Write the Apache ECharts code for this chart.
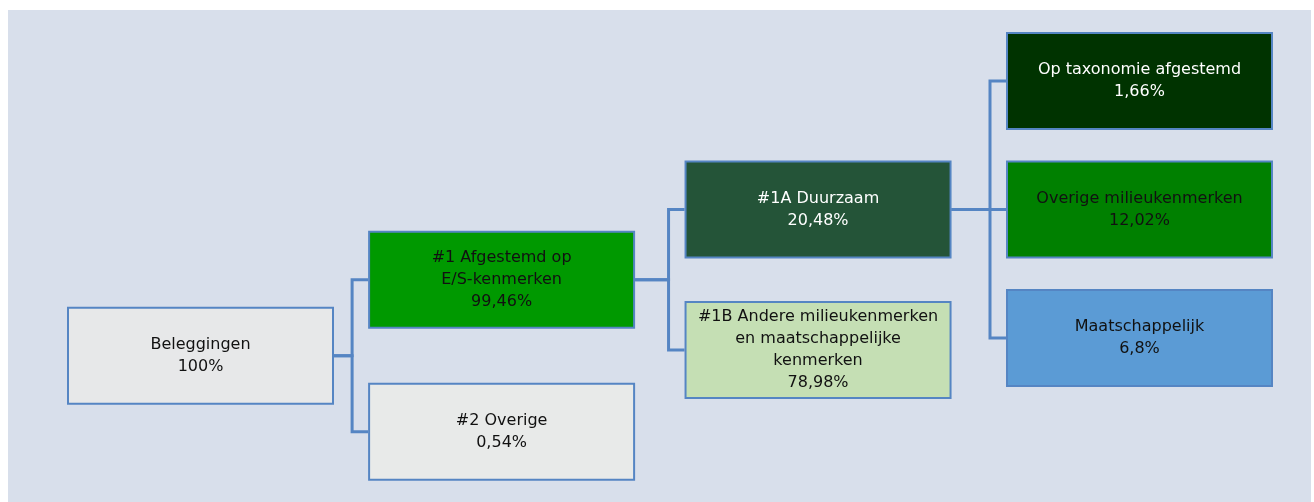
<!DOCTYPE html>
<html>
<head>
<meta charset="utf-8">
<title>Beleggingen</title>
<script src="https://cdn.jsdelivr.net/npm/echarts@6/dist/echarts.min.js"></script>
<style>
  html, body { margin: 0; padding: 0; background: #ffffff; }
  #chart { width: 1314px; height: 502px; }
</style>
</head>
<body>
<div id="chart"></div>
<script>
// boom: namen, aandelen en ouders
const nodeNames = [
  'Beleggingen',
  '#1 Afgestemd op\nE/S-kenmerken',
  '#2 Overige',
  '#1A Duurzaam',
  '#1B Andere milieukenmerken\nen maatschappelijke\nkenmerken',
  'Op taxonomie afgestemd',
  'Overige milieukenmerken',
  'Maatschappelijk',
];
const nodeShares = [100, 99.46, 0.54, 20.48, 78.98, 1.66, 12.02, 6.8];
const nodeParents = [-1, 0, 0, 1, 1, 3, 3, 3];

// layout: kolom per niveau, rij voor de bladeren (ouders = midden van kinderen)
const levelColumns = [0, 0.962, 1.973, 3];
const leafRows = { 2: 2.73, 4: 2.093, 5: 0, 6: 1, 7: 2 };

// stijl
const fillColors = ['#e7e8e9', '#009900', '#e8eae9', '#245438', '#c5dfb4', '#003300', '#008000', '#5b9bd5'];
const textColors = ['#111', '#111', '#111', '#fff', '#111', '#fff', '#111', '#111'];
const LINE_COLOR = '#5585c3';
const BOX_W = 267;
const BOX_H = 98;
const ELBOW = 16;

const depthOf = i => (nodeParents[i] < 0 ? 0 : depthOf(nodeParents[i]) + 1);
const childrenOf = i => nodeParents.map((p, k) => (p === i ? k : -1)).filter(k => k >= 0);
const rowOf = i => {
  const kids = childrenOf(i);
  if (kids.length === 0) return leafRows[i];
  return kids.reduce((s, k) => s + rowOf(k), 0) / kids.length;
};
const fmtShare = v => String(v).replace('.', ',') + '%';

const nodeData = nodeNames.map((n, i) => [levelColumns[depthOf(i)], rowOf(i), i]);
const linkData = nodeNames
  .map((n, i) => i)
  .filter(i => nodeParents[i] >= 0)
  .map(i => {
    const p = nodeParents[i];
    return [levelColumns[depthOf(p)], rowOf(p), levelColumns[depthOf(i)], rowOf(i)];
  });

const chart = echarts.init(document.getElementById('chart'), null, { renderer: 'canvas' });

const option = {
  animation: false,
  backgroundColor: '#ffffff',
  graphic: [
    {
      type: 'rect',
      z: -10,
      shape: { x: 8, y: 10, width: 1303, height: 492 },
      style: { fill: '#d8dfeb' },
    },
  ],
  grid: { left: 44, width: 1252, top: 16.75, height: 475.45 },
  xAxis: { type: 'value', min: -0.5, max: 3.5, show: false },
  yAxis: { type: 'value', min: -0.5, max: 3.2, inverse: true, show: false },
  series: [
    {
      type: 'custom',
      name: 'links',
      z: 1,
      data: linkData,
      encode: { x: [0, 2], y: [1, 3] },
      renderItem: (params, api) => {
        const a = api.coord([api.value(0), api.value(1)]);
        const b = api.coord([api.value(2), api.value(3)]);
        const x0 = a[0] + BOX_W / 2;
        const x1 = b[0] - BOX_W / 2;
        const xm = x1 - ELBOW;
        return {
          type: 'polyline',
          shape: { points: [[x0, a[1]], [xm, a[1]], [xm, b[1]], [x1, b[1]]] },
          style: { stroke: LINE_COLOR, lineWidth: 3, fill: null },
        };
      },
    },
    {
      type: 'custom',
      name: 'nodes',
      z: 2,
      data: nodeData,
      encode: { x: 0, y: 1 },
      renderItem: (params, api) => {
        const idx = api.value(2);
        const c = api.coord([api.value(0), api.value(1)]);
        return {
          type: 'group',
          children: [
            {
              type: 'rect',
              shape: { x: c[0] - BOX_W / 2 + 1, y: c[1] - BOX_H / 2 + 1, width: BOX_W - 2, height: BOX_H - 2 },
              style: { fill: fillColors[idx], stroke: LINE_COLOR, lineWidth: 2 },
            },
            {
              type: 'text',
              x: c[0],
              y: c[1],
              style: {
                text: nodeNames[idx] + '\n' + fmtShare(nodeShares[idx]),
                align: 'center',
                verticalAlign: 'middle',
                fill: textColors[idx],
                font: '16px "DejaVu Sans"',
                lineHeight: 22,
              },
            },
          ],
        };
      },
    },
  ],
};

chart.setOption(option);
window.addEventListener('resize', chart.resize);
</script>
</body>
</html>
